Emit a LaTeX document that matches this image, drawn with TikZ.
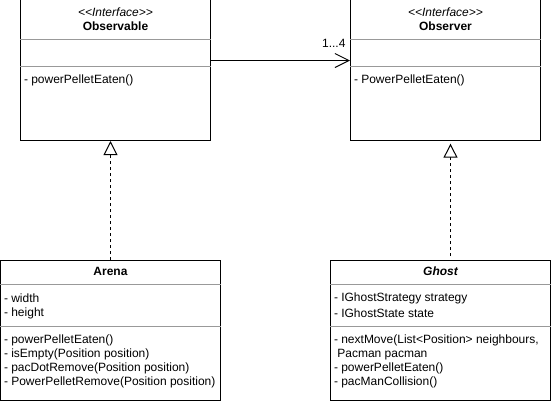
\documentclass[tikz,border=0pt]{standalone}
\usepackage{fontspec}
\setmainfont{Liberation Sans}[Ligatures=TeXOff]
\usetikzlibrary{arrows.meta,calc}
\definecolor{divgray}{HTML}{999999}
\begin{document}
\begin{tikzpicture}[x=0.75pt,y=-0.75pt,line width=0.75pt,
  every node/.style={font=\fontsize{9}{10.8}\selectfont},
  classbox/.style={draw=black,fill=white,inner sep=0pt,minimum width=#1*0.75pt},
  divline/.style={draw=divgray},
  txt/.style={anchor=west,inner sep=0pt},
  ctxt/.style={inner sep=0pt},
  realize/.style={draw=black,dash pattern=on 2.25pt off 2.25pt,
    -{Triangle[open,fill=white,length=10.5pt,width=10.5pt]}},
  assoc/.style={draw=black,-{Straight Barb[length=10.5pt,width=10.5pt]}}]
\useasboundingbox (0,0) rectangle (551,401);
% boxes
\node[classbox=190,minimum height=106.875pt] (Observable) at (115.5,69.25) {};
\node[classbox=190,minimum height=106.875pt] (Observer) at (445.5,69.25) {};
\node[classbox=220,minimum height=105pt] (Arena) at (110.5,330.5) {};
\node[classbox=220,minimum height=105pt] (Ghost) at (440.5,330.5) {};
% Observable
\node[ctxt] (obsst) at (115.5,12.5) {\itshape <<Interface>>};
\node[ctxt] (obsname) at (115.5,26) {\bfseries Observable};
\draw[divline] (Observable.west |- 0,39.5) -- (Observable.east |- 0,39.5);
\draw[divline] (Observable.west |- 0,66.5) -- (Observable.east |- 0,66.5);
\node[txt] (obsm) at (23.5,80) {- powerPelletEaten()};
% Observer
\node[ctxt] (obrst) at (445.5,12.5) {\itshape <<Interface>>};
\node[ctxt] (obrname) at (445.5,26) {\bfseries Observer};
\draw[divline] (Observer.west |- 0,39.5) -- (Observer.east |- 0,39.5);
\draw[divline] (Observer.west |- 0,66.5) -- (Observer.east |- 0,66.5);
\node[txt] (obrm) at (353.5,80) {- PowerPelletEaten()};
% Arena
\node[ctxt] (arname) at (110.5,271.5) {\bfseries Arena};
\draw[divline] (Arena.west |- 0,284.5) -- (Arena.east |- 0,284.5);
\draw[divline] (Arena.west |- 0,326.5) -- (Arena.east |- 0,326.5);
\node[txt] (ara1) at (3.5,298.5) {- width};
\node[txt] (ara2) at (3.5,313.3) {- height};
\node[txt] (arm1) at (3.5,340.5) {- powerPelletEaten()};
\node[txt] (arm2) at (3.5,354.5) {- isEmpty(Position position)};
\node[txt] (arm3) at (3.5,368.5) {- pacDotRemove(Position position)};
\node[txt] (arm4) at (3.5,382.5) {- PowerPelletRemove(Position position)};
% Ghost
\node[ctxt] (ghname) at (440.5,271.5) {\bfseries\itshape Ghost};
\draw[divline] (Ghost.west |- 0,284.5) -- (Ghost.east |- 0,284.5);
\draw[divline] (Ghost.west |- 0,326.5) -- (Ghost.east |- 0,326.5);
\node[txt] (gha1) at (333.5,298.5) {- IGhostStrategy strategy};
\node[txt] (gha2) at (333.5,313.3) {- IGhostState state};
\node[txt] (ghm1) at (333.5,340.5) {- nextMove(List<Position> neighbours,};
\node[txt] (ghm2) at (333.5,354.5) {\ Pacman pacman};
\node[txt] (ghm3) at (333.5,368.5) {- powerPelletEaten()};
\node[txt] (ghm4) at (333.5,382.5) {- pacManCollision()};
% connectors
\draw[assoc] (Observable.east |- 0,60.5) -- (Observer.west |- 0,60.5);
\node[anchor=east,inner sep=0pt] (mult) at (346,43.5) {1...4};
\coordinate (arTop) at (Arena.north);
\draw[realize] (arTop) -- (arTop |- Observable.south);
\coordinate (ghTop) at ($(Ghost.north)+(10,-4)$);
\draw[realize,shorten >=2pt] (ghTop) -- (ghTop |- Observer.south);
\end{tikzpicture}
\end{document}
